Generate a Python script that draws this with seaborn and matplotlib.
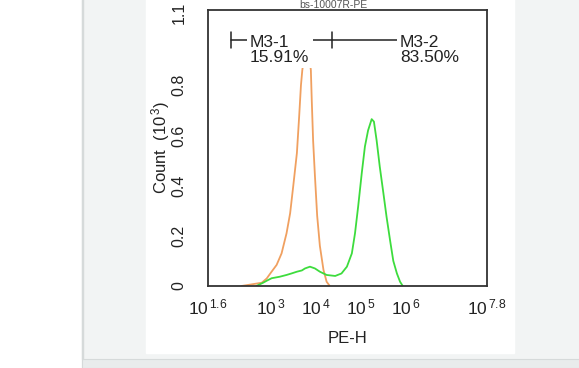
import matplotlib
matplotlib.use('Agg')
import numpy as np
import pandas as pd
import matplotlib.pyplot as plt
import seaborn as sns
from matplotlib.patches import Rectangle
from matplotlib.transforms import offset_copy
from matplotlib.ticker import FixedLocator, LogLocator, MultipleLocator, NullFormatter

# log10(PE-H) positions and counts (x10^3)
iso_logx = [2.35, 2.80, 2.91, 3.01, 3.13, 3.24, 3.35, 3.43, 3.50, 3.58, 3.63, 3.67, 3.70,
            3.76, 3.80, 3.84, 3.89, 3.91, 3.94, 3.98, 4.03, 4.09, 4.17, 4.24, 4.31]
iso_count = [0.0, 0.013, 0.03, 0.055, 0.084, 0.13, 0.21, 0.29, 0.40, 0.53, 0.675, 0.80, 0.86,
             0.94, 0.96, 0.94, 0.86, 0.74, 0.58, 0.44, 0.28, 0.16, 0.064, 0.017, 0.0]

ab_logx = [2.68, 2.83, 2.91, 3.02, 3.20, 3.35, 3.46, 3.58, 3.69, 3.76, 3.87, 3.98, 4.09, 4.24,
           4.43, 4.57, 4.69, 4.80, 4.87, 4.94, 5.02, 5.09, 5.16, 5.24, 5.29, 5.35, 5.42, 5.50,
           5.57, 5.65, 5.72, 5.80, 5.87, 5.93]
ab_count = [0.0, 0.013, 0.021, 0.031, 0.037, 0.044, 0.05, 0.057, 0.062, 0.07, 0.077, 0.07,
            0.057, 0.044, 0.04, 0.05, 0.077, 0.13, 0.21, 0.317, 0.45, 0.556, 0.62, 0.665,
            0.655, 0.58, 0.475, 0.37, 0.276, 0.18, 0.10, 0.05, 0.017, 0.0]

# gate markers (log10 positions) and labels
gate_y = 0.98
gate_edges = [2.12, 4.37]
gate_end = 5.8
gate_names = ['M3-1\n15.91%', 'M3-2\n83.50%']
gate_label_x = [2.54, 5.87]

x_tick_pos = [1.6, 2, 3, 4, 5, 6, 7, 7.8]
x_tick_lab = [r'$10^{\,1.6}$', '', r'$10^{\,3}$', r'$10^{\,4}$', r'$10^{\,5}$', r'$10^{\,6}$', '', r'$10^{\,7.8}$']
y_tick_pos = [0, 0.2, 0.4, 0.6, 0.8, 1.0, 1.1]
y_tick_lab = ['0', '0.2', '0.4', '0.6', '0.8', '', '']
y_top_label = '1.1'

sns.set_style('white')
plt.rcParams['font.family'] = ['Liberation Sans', 'DejaVu Sans']
plt.rcParams['mathtext.fontset'] = 'custom'
plt.rcParams['mathtext.rm'] = 'Liberation Sans'
plt.rcParams['mathtext.it'] = 'Liberation Sans'

fig = plt.figure(figsize=(5.79, 3.68), dpi=100)
W, H = 579, 368
# page background panels
fig.patches.append(Rectangle((82 / W, 0), 1, 1, transform=fig.transFigure, color='#f2f4f4', zorder=-3))
fig.patches.append(Rectangle((82 / W, 0), 1, (368 - 359) / H, transform=fig.transFigure,
                             facecolor='#e9ecec', edgecolor='#d6dada', lw=0.8, zorder=-2))
fig.patches.append(Rectangle((82 / W, 9 / H), 0.8 / W, 1, transform=fig.transFigure, color='#d6dada', zorder=-2))
fig.patches.append(Rectangle((146 / W, (368 - 353) / H), (514 - 146) / W, 1, transform=fig.transFigure,
                             color='white', zorder=-1))

ax = fig.add_axes([207.7 / W, (368 - 286) / H, (487 - 207.7) / W, (286 - 10) / H])
ax.patch.set_alpha(0)

iso = pd.DataFrame({'PE-H': np.power(10.0, iso_logx), 'Count': iso_count})
ab = pd.DataFrame({'PE-H': np.power(10.0, ab_logx), 'Count': ab_count})
sns.lineplot(data=iso, x='PE-H', y='Count', ax=ax, color='#f0a060', lw=1.3, sort=False, estimator=None)
sns.lineplot(data=ab, x='PE-H', y='Count', ax=ax, color='#3ddc3d', lw=1.3, sort=False, estimator=None)

ax.set_xscale('log')
ax.set_xlim(10 ** 1.6, 10 ** 7.8)
ax.set_ylim(0, 1.1)

# gate bars
ax.plot([10 ** gate_edges[0], 10 ** gate_end], [gate_y, gate_y], color='#222222', lw=1.1, zorder=3)
for e in gate_edges:
    ax.plot([10 ** e, 10 ** e], [gate_y - 0.033, gate_y + 0.033], color='#222222', lw=1.1, zorder=3)
for lx, name in zip(gate_label_x, gate_names):
    ax.text(10 ** lx, gate_y + 0.022, name, fontsize=12.5, color='#222222', ha='left', va='top',
            linespacing=1.0, zorder=4,
            bbox=dict(facecolor='white', edgecolor='none', pad=2.5))

ax.xaxis.set_major_locator(FixedLocator([10 ** p for p in x_tick_pos]))
ax.set_xticklabels(x_tick_lab)
ax.xaxis.set_minor_locator(LogLocator(base=10, subs=np.arange(2, 10), numticks=20))
ax.xaxis.set_minor_formatter(NullFormatter())
ax.yaxis.set_major_locator(FixedLocator(y_tick_pos))
ax.set_yticklabels(y_tick_lab)
ax.yaxis.set_minor_locator(MultipleLocator(0.04))

ax.tick_params(axis='both', which='major', direction='out', length=5, width=1.1, color='#333333',
               labelcolor='#222222')
ax.tick_params(axis='x', which='major', pad=3, labelsize=12.5)
ax.tick_params(axis='y', which='major', pad=10, labelrotation=90, labelsize=11.5)
ax.tick_params(axis='both', which='minor', direction='out', length=2.5, width=0.8, color='#333333')
for t in ax.get_yticklabels():
    t.set_va('center')

# top y label nudged down a little so it stays inside the picture
ax.text(0, 1.088, y_top_label, rotation=90, ha='right', va='center', fontsize=11.5, color='#222222',
        transform=offset_copy(ax.get_yaxis_transform(), fig=fig, x=-15, units='points'))

for s in ax.spines.values():
    s.set_color('#333333')
    s.set_linewidth(1.3)

ax.set_xlabel('PE-H', fontsize=12, color='#222222', labelpad=10)
ax.set_ylabel(r'Count  (10$^{\,3}$)', fontsize=12, color='#222222', labelpad=0)

fig.text(333 / W, 1 - 0.5 / H, 'bs-10007R-PE', ha='center', va='top', fontsize=7.5, color='#555555')

fig.savefig('out.png', dpi=100)
